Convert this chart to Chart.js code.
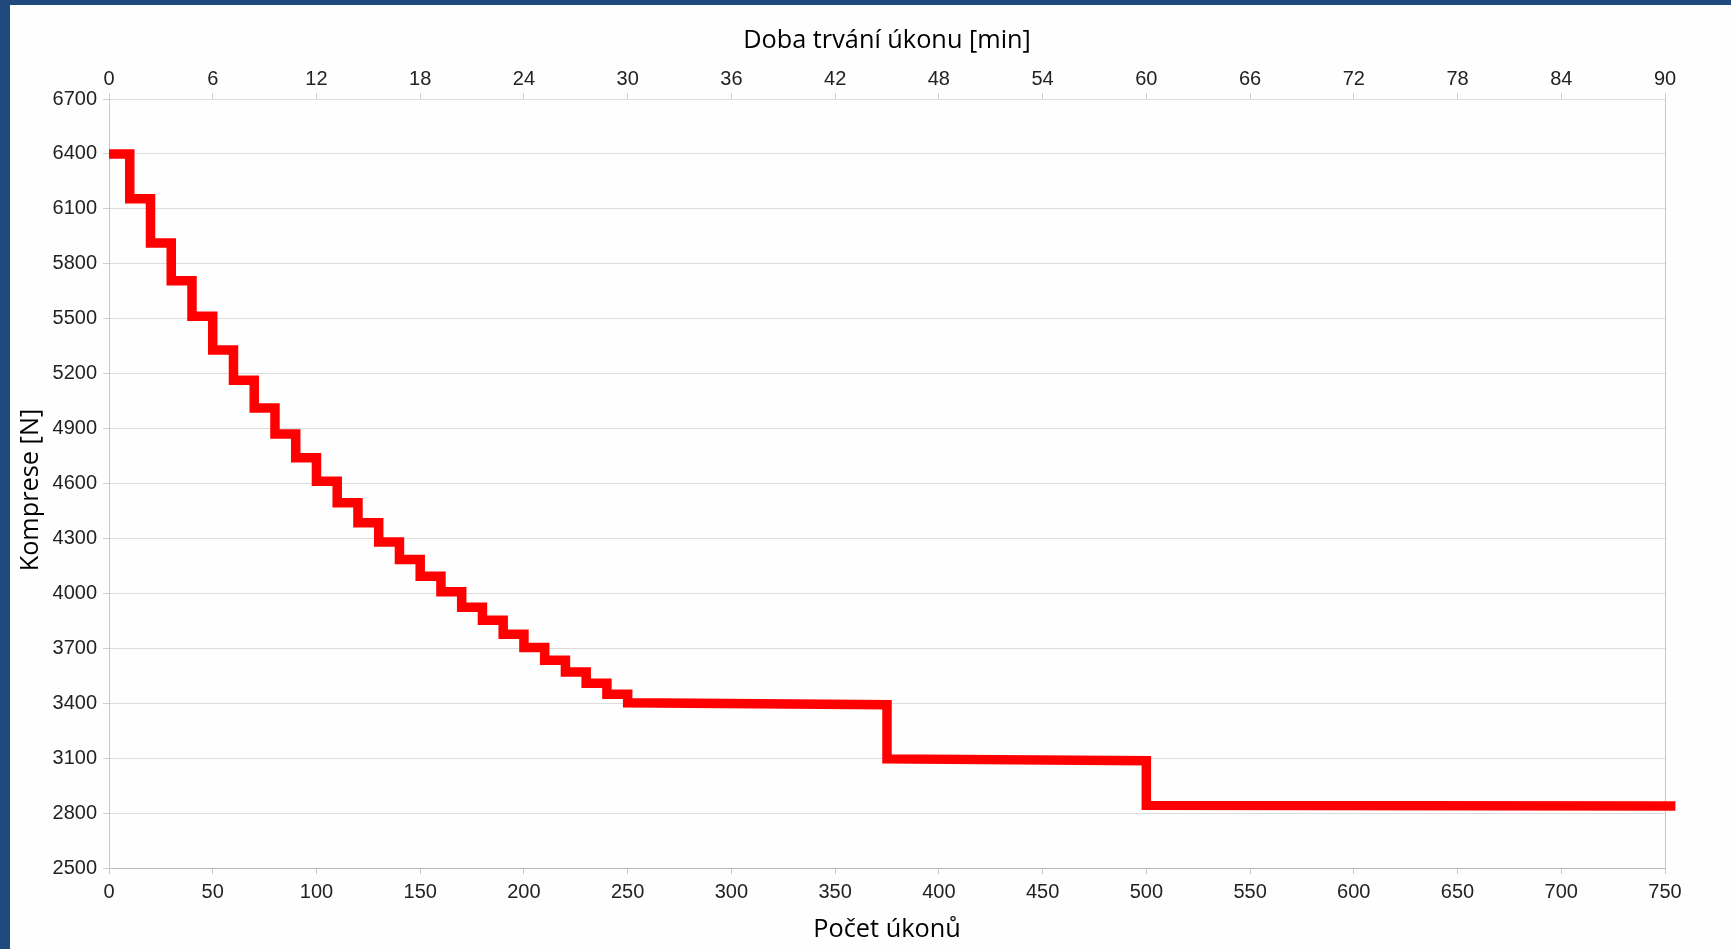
<!DOCTYPE html>
<html lang="cs">
<head>
<meta charset="utf-8">
<title>Komprese</title>
<script src="https://cdn.jsdelivr.net/npm/chart.js@4.4.1/dist/chart.umd.min.js"></script>
<style>
  html, body {
    margin: 0;
    padding: 0;
    background: #1f497d;
    overflow: hidden;
  }
  #frame {
    position: absolute;
    left: 10px;
    top: 5px;
    width: 1721px;
    height: 944px;
    background: #fdfefd;
  }
  #kompreseChart {
    display: block;
  }
</style>
</head>
<body>
<div id="frame">
  <canvas id="kompreseChart" width="1721" height="944"></canvas>
</div>
<script>
// start / end of each level, x = pocet ukonu
const stepStart = [0, 10, 20, 30, 40, 50, 60, 70, 80, 90, 100, 110, 120, 130, 140, 150, 160, 170, 180, 190, 200, 210, 220, 230, 240, 250, 375, 500];
const stepEnd = [10, 20, 30, 40, 50, 60, 70, 80, 90, 100, 110, 120, 130, 140, 150, 160, 170, 180, 190, 200, 210, 220, 230, 240, 250, 375, 500, 755];

// komprese [N] at start and end of each level
const forceStart = [6400, 6155, 5913, 5707, 5513, 5329, 5164, 5013, 4871, 4740, 4612, 4495, 4385, 4280, 4185, 4093, 4009, 3924, 3853, 3776, 3704, 3635, 3571, 3509, 3449, 3402, 3096, 2842];
const forceEnd = [6400, 6155, 5913, 5707, 5513, 5329, 5164, 5013, 4871, 4740, 4612, 4495, 4385, 4280, 4185, 4093, 4009, 3924, 3853, 3776, 3704, 3635, 3571, 3509, 3449, 3392, 3086, 2838];

// axis ranges
const countMin = 0;
const countMax = 750;
const countStep = 50;
const minutesMin = 0;
const minutesMax = 90;
const minutesStep = 6;
const forceMin = 2500;
const forceMax = 6700;
const forceStep = 300;

const bottomTitle = "Počet úkonů";
const topTitle = "Doba trvání úkonu [min]";
const leftTitle = "Komprese [N]";

const tickFont = { family: "'Liberation Sans', Arial, sans-serif", size: 20 };
const titleFont = { family: "'Open Sans', sans-serif", size: 25.3 };
const tickColor = "#222222";
const gridColor = "#dcdcdc";

let points = [];
stepStart.forEach((x, i) => {
  points.push({ x: x, y: forceStart[i] });
  points.push({ x: stepEnd[i], y: forceEnd[i] });
});

function plainNumber(value) {
  return String(value);
}

const ctx = document.getElementById("kompreseChart").getContext("2d");

const chart = new Chart(ctx, {
  type: "line",
  data: {
    datasets: [
      {
        label: leftTitle,
        data: points,
        borderColor: "#ff0000",
        backgroundColor: "#ff0000",
        borderWidth: 9.5,
        borderJoinStyle: "miter",
        borderCapStyle: "butt",
        pointRadius: 0,
        tension: 0,
        fill: false,
        clip: false,
        xAxisID: "x",
        yAxisID: "y",
      },
    ],
  },
  options: {
    responsive: false,
    animation: false,
    devicePixelRatio: 1,
    layout: { padding: 0 },
    plugins: {
      legend: { display: false },
      tooltip: { enabled: false },
    },
    scales: {
      x: {
        type: "linear",
        position: "bottom",
        min: countMin,
        max: countMax,
        ticks: {
          stepSize: countStep,
          font: tickFont,
          color: tickColor,
          padding: 6,
          maxRotation: 0,
          autoSkip: false,
          callback: plainNumber,
        },
        grid: {
          drawOnChartArea: false,
          tickLength: 6,
          tickColor: "#c8c8c8",
        },
        border: { color: "#b8b8b8", width: 1 },
        title: {
          display: true,
          text: bottomTitle,
          font: titleFont,
          color: "#000000",
          padding: { top: 0, bottom: 4.4 },
        },
        afterFit: (scale) => {
          scale.height = 81;
        },
      },
      x2: {
        type: "linear",
        position: "top",
        min: minutesMin,
        max: minutesMax,
        ticks: {
          stepSize: minutesStep,
          font: tickFont,
          color: tickColor,
          padding: 1.7,
          maxRotation: 0,
          autoSkip: false,
          callback: plainNumber,
        },
        grid: {
          drawOnChartArea: false,
          tickLength: 6,
          tickColor: "#d0d0d0",
        },
        border: { color: gridColor, width: 1 },
        title: {
          display: true,
          text: topTitle,
          font: titleFont,
          color: "#000000",
          padding: { top: 21, bottom: 0 },
        },
        afterFit: (scale) => {
          scale.height = 94;
        },
      },
      y: {
        type: "linear",
        position: "left",
        min: forceMin,
        max: forceMax,
        ticks: {
          stepSize: forceStep,
          font: tickFont,
          color: tickColor,
          padding: 6,
          callback: plainNumber,
        },
        grid: {
          color: gridColor,
          lineWidth: 1,
          tickLength: 6,
          tickColor: "#d0d0d0",
        },
        border: { color: "#c8c8c8", width: 1 },
        title: {
          display: true,
          // trailing spaces push the rotated title a little lower, as in the original
          text: leftTitle + "  ",
          font: titleFont,
          color: "#000000",
          padding: { top: 5.8, bottom: 0 },
        },
        afterFit: (scale) => {
          scale.width = 99;
        },
      },
      yRight: {
        type: "linear",
        position: "right",
        min: forceMin,
        max: forceMax,
        ticks: { display: false },
        grid: { drawOnChartArea: false, drawTicks: false },
        border: { color: "#c8c8c8", width: 1 },
        afterFit: (scale) => {
          scale.width = 66;
        },
      },
    },
  },
});
</script>
</body>
</html>
